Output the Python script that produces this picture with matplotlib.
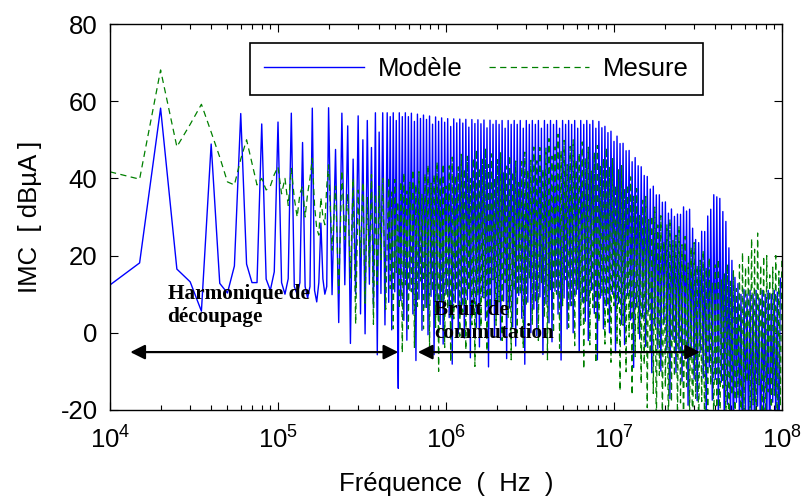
import numpy as np
import matplotlib
matplotlib.use("Agg")
import matplotlib.pyplot as plt
from matplotlib.ticker import LogLocator, NullFormatter, FixedLocator, FixedFormatter

plt.rcParams['font.family'] = ['Liberation Sans', 'DejaVu Sans']
plt.rcParams['mathtext.fontset'] = 'custom'
plt.rcParams['mathtext.rm'] = 'Liberation Sans'
plt.rcParams['mathtext.it'] = 'Liberation Sans:italic'
plt.rcParams['mathtext.bf'] = 'Liberation Sans:bold'
plt.rcParams['axes.unicode_minus'] = False

# ---- Low-frequency part of the spectrum, 5 kHz resolution ----
lf_freq_khz = [10, 15, 20, 25, 30, 35, 40, 45, 50, 55, 60, 65, 70, 75, 80, 85, 90, 95,
               100, 105, 110, 115, 120, 125, 130, 135, 140, 145, 150, 155, 160, 165, 170,
               175, 180, 185, 190, 195, 200]
model_lf_db = [12.4, 18.1, 58.2, 16.5, 13.2, 5.6, 48.9, 12.8, 10.3, 17.3, 56.8, 17.8, 13.0,
               13.0, 54.1, 13.9, 11.0, 15.8, 54.6, 13.0, 10.0, 14.0, 56.9, 12.0, 10.0, 13.0,
               49.3, 12.0, 9.0, 12.0, 58.2, 11.0, 8.0, 13.0, 28.4, 14.0, 10.0, 12.0, 58.3]
mesure_lf_db = [41.7, 39.8, 68.1, 48.2, 54.0, 59.2, 52.0, 45.5, 39.1, 38.3, 45.0, 50.0, 44.0,
                38.3, 40.0, 37.0, 38.0, 41.0, 43.0, 36.0, 40.0, 33.0, 42.6, 34.9, 30.0, 36.0,
                38.0, 30.0, 36.0, 40.0, 45.2, 33.0, 27.0, 25.3, 35.0, 30.0, 28.0, 38.0, 43.5]

# ---- Switching harmonics (20 kHz) between 220 and 420 kHz ----
harm_freq_khz = [220, 240, 260, 280, 300, 320, 340, 360, 380, 400, 420]
model_harm_db = [47.5, 56.9, 53.6, 45.0, 56.2, 50.0, 55.0, 48.0, 57.0, 52.0, 57.0]
mesure_harm_db = [38.0, 42.0, 36.0, 40.0, 37.0, 39.0, 35.0, 41.0, 36.0, 38.0, 40.0]

# ---- Peak / floor levels of the dense switching-noise spectrum ----
model_peak_freq = [4.4e5, 6e5, 1e6, 2e6, 4e6, 8e6, 1.04e7, 1.36e7, 1.8e7, 2.36e7, 2.76e7,
                   3.1e7, 3.6e7, 4e7, 4.5e7, 4.9e7, 5.4e7, 6e7, 9e7, 1e8]
model_peak_db = [57.0, 57.0, 55.5, 55.0, 55.0, 55.0, 51.0, 45.0, 36.5, 30.5, 34.0,
                 23.0, 30.0, 37.0, 33.0, 21.0, 13.0, 11.0, 11.0, 15.0]
model_floor_freq = [2e5, 4.4e5, 6e5, 1e6, 2e6, 5e6, 1e7, 1.5e7, 2e7, 3e7, 4e7, 5e7, 1e8]
model_floor_db = [10.0, 8.0, 7.0, 6.0, 5.0, 7.0, 7.0, 4.0, -2.0, -8.0, -12.0, -22.0, -22.0]
model_notch = (5.2e5, -14.4)

mesure_peak_freq = [4.4e5, 1e6, 1.66e6, 2.6e6, 4.6e6, 5.7e6, 9e6, 1.2e7, 1.7e7, 2.46e7,
                    3.2e7, 5.1e7, 7.2e7, 8e7, 1e8]
mesure_peak_db = [40.0, 45.0, 48.0, 45.5, 51.5, 50.0, 48.0, 41.5, 33.0, 27.5,
                  22.0, 17.0, 27.0, 20.0, 20.0]
mesure_floor_freq = [2e5, 4.4e5, 1e6, 2e6, 5e6, 1e7, 1.5e7, 2e7, 3e7, 1e8]
mesure_floor_db = [22.0, 12.0, 4.0, 8.0, 8.0, 2.0, -8.0, -16.0, -20.0, -18.0]

# Line-to-line spread of the peaks and floors
model_peak_spread = [0.0, -1.0, 0.0, -2.0, 0.0, -1.0]
model_floor_spread = [0.0, -7.0, 3.0, -12.0, 1.0, -4.0, -9.0, 4.0, -2.0, -14.0, 2.0, -6.0]
mesure_peak_spread = [0.0, -4.0, -1.0, -7.0, -2.0, 0.0, -5.0, -3.0]
mesure_floor_spread = [0.0, -10.0, 5.0, -4.0, -15.0, 3.0, -8.0, 2.0, -12.0, -1.0, 6.0, -6.0]


def cycle(values, n):
    values = np.asarray(values, dtype=float)
    return values[np.arange(n) % len(values)]


def build_spectrum(lf_db, harm_db, start_log, peak_f, peak_db, floor_f, floor_db,
                   peak_spread, floor_spread, notch=None):
    lf_f = np.asarray(lf_freq_khz, dtype=float) * 1e3
    dense_f = 10 ** np.arange(start_log, 8.0 + 1e-9, 0.018)
    dense_db = np.interp(np.log10(dense_f), np.log10(peak_f), peak_db)
    dense_db = dense_db + cycle(peak_spread, len(dense_f))
    pk_f = np.concatenate([np.asarray(harm_freq_khz, dtype=float) * 1e3, dense_f])
    pk_db = np.concatenate([np.asarray(harm_db, dtype=float), dense_db])
    prev_f = np.concatenate([[lf_f[-1]], pk_f[:-1]])
    tr_f = np.sqrt(prev_f * pk_f)
    tr_db = np.interp(np.log10(tr_f), np.log10(floor_f), floor_db)
    tr_db = tr_db + cycle(floor_spread, len(tr_f))
    hf_f = np.empty(2 * len(pk_f))
    hf_db = np.empty(2 * len(pk_f))
    hf_f[0::2], hf_f[1::2] = tr_f, pk_f
    hf_db[0::2], hf_db[1::2] = tr_db, pk_db
    f = np.concatenate([lf_f, hf_f])
    db = np.concatenate([np.asarray(lf_db, dtype=float), hf_db])
    if notch is not None:
        k = np.searchsorted(f, notch[0])
        f = np.insert(f, k, notch[0])
        db = np.insert(db, k, notch[1])
    return f, db


f_model, db_model = build_spectrum(model_lf_db, model_harm_db, 5.65,
                                   model_peak_freq, model_peak_db,
                                   model_floor_freq, model_floor_db,
                                   model_peak_spread, model_floor_spread, model_notch)
f_mes, db_mes = build_spectrum(mesure_lf_db, mesure_harm_db, 5.659,
                               mesure_peak_freq, mesure_peak_db,
                               mesure_floor_freq, mesure_floor_db,
                               mesure_peak_spread, mesure_floor_spread)

x_ticks = [1e4, 1e5, 1e6, 1e7, 1e8]
x_tick_labels = [r'$10^{4}$', r'$10^{5}$', r'$10^{6}$', r'$10^{7}$', r'$10^{8}$']
y_ticks = [-20, 0, 20, 40, 60, 80]

fs = 18.5
fig = plt.figure(figsize=(8.06, 4.99), dpi=100)
ax = fig.add_axes([0.1365, 0.1784, 0.8337, 0.7735])

ax.plot(f_model, db_model, color='#0000ff', lw=1.0, label='Modèle')
ax.plot(f_mes, db_mes, color='#008000', lw=0.9, ls=(0, (5, 3.5)), label='Mesure')
ax.set_xscale('log')
ax.set_xlim(1e4, 1e8)
ax.set_ylim(-20, 80)

ax.xaxis.set_major_locator(FixedLocator(x_ticks))
ax.xaxis.set_major_formatter(FixedFormatter(x_tick_labels))
ax.xaxis.set_minor_locator(LogLocator(base=10, subs=np.arange(2, 10), numticks=20))
ax.xaxis.set_minor_formatter(NullFormatter())
ax.set_yticks(y_ticks)

ax.tick_params(which='both', direction='in', top=True, right=True, labelsize=fs)
ax.tick_params(which='major', length=6, width=0.8)
ax.tick_params(which='minor', length=3.5, width=0.8)
ax.tick_params(axis='x', pad=12)
ax.tick_params(axis='y', pad=9)
for s in ax.spines.values():
    s.set_linewidth(1.0)

ax.set_xlabel('Fréquence  (  Hz  )', fontsize=fs, labelpad=13)
ax.set_ylabel('IMC  [ dBµA ]', fontsize=fs, labelpad=13)

leg = ax.legend(loc='upper left', bbox_to_anchor=(0.208, 0.951), ncol=2, fontsize=fs,
                frameon=True, fancybox=False, edgecolor='black', framealpha=1,
                handlelength=3.9, handletextpad=0.55, columnspacing=1.0,
                borderpad=0.55, borderaxespad=0)
leg.get_frame().set_linewidth(1.2)

# Frequency ranges: switching harmonics and switching noise
arrow_y = -5
harm_range = (1.32e4, 5.2e5)
noise_range = (6.8e5, 3.25e7)
arrow_props = dict(arrowstyle='<|-|>', color='black', lw=1.6, mutation_scale=22,
                   shrinkA=0, shrinkB=0)
ax.annotate('', xy=(harm_range[1], arrow_y), xytext=(harm_range[0], arrow_y),
            arrowprops=arrow_props)
ax.annotate('', xy=(noise_range[1], arrow_y), xytext=(noise_range[0], arrow_y),
            arrowprops=arrow_props)

ax.text(2.2e4, 12.6, 'Harmonique de\ndécoupage', family='Liberation Serif',
        fontweight='bold', fontsize=15.3, va='top', ha='left', linespacing=1.2)
ax.text(8.5e5, 8.6, 'Bruit de\ncommutation', family='Liberation Serif',
        fontweight='bold', fontsize=15.3, va='top', ha='left', linespacing=1.2)

fig.savefig('out.png', dpi=100)
